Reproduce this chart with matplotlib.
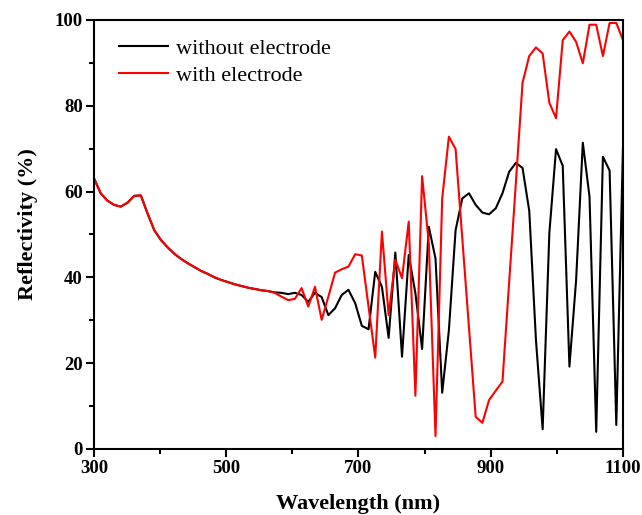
import numpy as np
import matplotlib
matplotlib.use("Agg")
import matplotlib.pyplot as plt

plt.rcParams['font.family'] = ['Liberation Serif', 'DejaVu Serif']

# Wavelength grid (nm), 80 samples across 300-1100
wavelength = np.linspace(300, 1100, 80)

# Reflectivity (%)
without_electrode = [
    63.1, 59.6, 57.9, 56.9, 56.5, 57.4, 59.0, 59.1, 54.9, 51.0,
    48.7, 47.0, 45.5, 44.3, 43.3, 42.4, 41.5, 40.8, 40.0, 39.4,
    38.9, 38.4, 38.0, 37.6, 37.3, 37.0, 36.8, 36.5, 36.4, 36.1,
    36.4, 35.9, 34.3, 36.4, 35.4, 31.2, 32.8, 35.9, 37.1, 34.0,
    28.7, 27.9, 41.3, 37.8, 25.9, 45.8, 21.5, 45.2, 36.3, 23.3,
    51.8, 44.4, 13.1, 27.7, 51.0, 58.4, 59.6, 56.9, 55.1, 54.7,
    56.1, 59.6, 64.6, 66.7, 65.5, 55.5, 25.4, 4.6, 50.3, 69.9,
    66.0, 19.2, 39.4, 71.4, 58.8, 4.0, 68.1, 64.9, 5.6, 70.5,
]
with_electrode = [
    63.1, 59.6, 57.9, 56.9, 56.5, 57.4, 59.0, 59.1, 54.9, 51.0,
    48.7, 47.0, 45.5, 44.3, 43.3, 42.4, 41.5, 40.8, 40.0, 39.4,
    38.9, 38.4, 38.0, 37.6, 37.3, 37.0, 36.8, 36.4, 35.5, 34.7,
    35.0, 37.5, 33.2, 37.8, 30.1, 35.5, 41.1, 41.9, 42.5, 45.4,
    45.1, 33.2, 21.3, 50.7, 31.2, 44.1, 39.8, 53.0, 12.4, 63.6,
    48.0, 3.0, 58.4, 72.8, 69.9, 49.1, 28.3, 7.5, 6.1, 11.4,
    13.6, 15.7, 38.9, 62.0, 85.4, 91.6, 93.6, 92.2, 80.7, 77.1,
    95.3, 97.3, 94.9, 89.9, 98.9, 98.9, 91.6, 99.3, 99.3, 95.3,
]

x_major = [300, 500, 700, 900, 1100]
x_minor = [400, 600, 800, 1000]
y_major = [0, 20, 40, 60, 80, 100]
y_minor = [10, 30, 50, 70, 90]

fig = plt.figure(figsize=(6.42, 5.15), dpi=100)
ax = fig.add_axes([0.1464, 0.1282, 0.8240, 0.8330])

ax.plot(wavelength, without_electrode, color='black', lw=1.5, label='without electrode')
ax.plot(wavelength, with_electrode, color='red', lw=1.5, label='with electrode')

ax.set_xlim(300, 1100)
ax.set_ylim(0, 100)
ax.set_xticks(x_major)
ax.set_xticks(x_minor, minor=True)
ax.set_yticks(y_major)
ax.set_yticks(y_minor, minor=True)
ax.tick_params(which='major', direction='out', length=6, width=1.5,
               labelsize=13.5, pad=2)
ax.tick_params(which='minor', direction='out', length=3.5, width=1.5)
for lab in ax.get_xticklabels() + ax.get_yticklabels():
    lab.set_fontweight('bold')
for sp in ax.spines.values():
    sp.set_linewidth(1.5)

ax.set_xlabel('Wavelength (nm)', fontsize=16, fontweight='bold')
ax.set_ylabel('Reflectivity (%)', fontsize=16, fontweight='bold')
ax.xaxis.set_label_coords(0.5, -0.106)
ax.yaxis.set_label_coords(-0.106, 0.525)

ax.legend(loc='upper left', bbox_to_anchor=(0.03, 0.978), frameon=False,
          fontsize=16, handlelength=2.2, handletextpad=0.36,
          labelspacing=0.29, borderaxespad=0)

fig.savefig('out.png', dpi=100)
